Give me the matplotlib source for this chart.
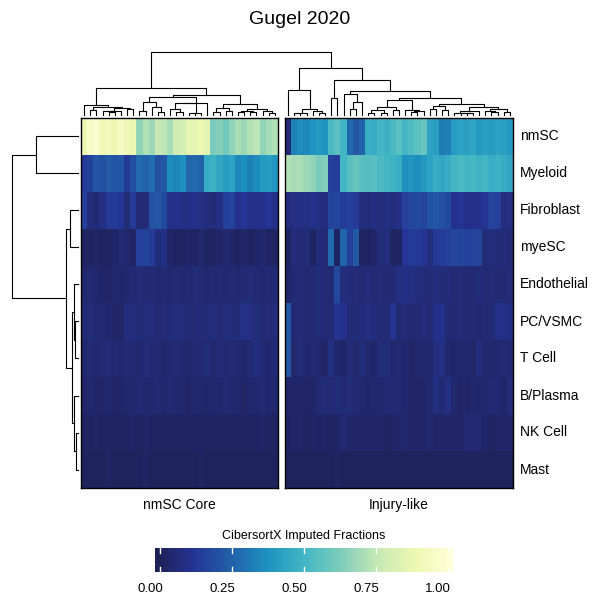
import matplotlib
matplotlib.use('Agg')
import matplotlib.pyplot as plt
import numpy as np
from matplotlib.cm import ScalarMappable
from matplotlib.colors import LinearSegmentedColormap, Normalize
from matplotlib.transforms import offset_copy

plt.rcParams['font.family'] = ['Liberation Sans', 'DejaVu Sans']

row_labels = ['nmSC', 'Myeloid', 'Fibroblast', 'myeSC', 'Endothelial',
              'PC/VSMC', 'T Cell', 'B/Plasma', 'NK Cell', 'Mast']
group_titles = ['nmSC Core', 'Injury-like']
cbar_ticks = [0.0, 0.25, 0.5, 0.75, 1.0]

# imputed fractions, one list per cell type, columns in dendrogram order
core_fractions = [
    [0.88, 0.96, 0.98, 0.90, 0.92, 0.88, 0.95, 0.90, 0.88, 0.66, 0.72, 0.68, 0.76, 0.74, 0.70, 0.78,
     0.80, 0.86, 0.86, 0.88, 0.85, 0.62, 0.64, 0.60, 0.66, 0.70, 0.68, 0.72, 0.74, 0.66, 0.70, 0.72],
    [0.13, 0.15, 0.22, 0.20, 0.23, 0.21, 0.22, 0.13, 0.20, 0.27, 0.25, 0.28, 0.20, 0.22, 0.36, 0.34,
     0.37, 0.26, 0.27, 0.25, 0.46, 0.48, 0.45, 0.41, 0.43, 0.35, 0.37, 0.33, 0.36, 0.40, 0.41, 0.39],
    [0.15, 0.07, 0.05, 0.08, 0.13, 0.14, 0.12, 0.06, 0.13, 0.05, 0.06, 0.20, 0.22, 0.18, 0.09, 0.10,
     0.08, 0.09, 0.10, 0.08, 0.07, 0.06, 0.08, 0.15, 0.16, 0.10, 0.11, 0.10, 0.09, 0.10, 0.11, 0.09],
    [0.02, 0.02, 0.03, 0.02, 0.02, 0.03, 0.05, 0.04, 0.02, 0.15, 0.16, 0.14, 0.07, 0.08, 0.03, 0.02,
     0.02, 0.03, 0.02, 0.04, 0.02, 0.02, 0.03, 0.04, 0.03, 0.02, 0.03, 0.02, 0.03, 0.04, 0.02, 0.02],
    [0.04, 0.05, 0.04, 0.03, 0.03, 0.04, 0.03, 0.04, 0.05, 0.06, 0.05, 0.05, 0.04, 0.05, 0.04, 0.05,
     0.04, 0.05, 0.06, 0.05, 0.04, 0.05, 0.05, 0.04, 0.05, 0.04, 0.05, 0.06, 0.05, 0.04, 0.05, 0.05],
    [0.05, 0.06, 0.05, 0.05, 0.04, 0.03, 0.03, 0.07, 0.07, 0.06, 0.07, 0.06, 0.05, 0.06, 0.06, 0.07,
     0.06, 0.06, 0.05, 0.06, 0.06, 0.07, 0.05, 0.07, 0.06, 0.06, 0.09, 0.09, 0.06, 0.05, 0.06, 0.06],
    [0.04, 0.05, 0.04, 0.05, 0.06, 0.05, 0.04, 0.05, 0.05, 0.04, 0.06, 0.05, 0.05, 0.04, 0.04, 0.05,
     0.04, 0.04, 0.05, 0.05, 0.06, 0.04, 0.06, 0.04, 0.05, 0.04, 0.04, 0.05, 0.07, 0.05, 0.04, 0.05],
    [0.03, 0.04, 0.03, 0.03, 0.04, 0.03, 0.03, 0.04, 0.04, 0.05, 0.04, 0.04, 0.05, 0.04, 0.05, 0.04,
     0.04, 0.03, 0.04, 0.04, 0.03, 0.04, 0.04, 0.05, 0.04, 0.04, 0.03, 0.04, 0.04, 0.05, 0.04, 0.04],
    [0.02, 0.02, 0.03, 0.02, 0.02, 0.02, 0.02, 0.02, 0.03, 0.02, 0.03, 0.02, 0.02, 0.02, 0.02, 0.02,
     0.02, 0.02, 0.02, 0.02, 0.02, 0.02, 0.02, 0.02, 0.02, 0.02, 0.02, 0.02, 0.02, 0.03, 0.02, 0.02],
    [0.01, 0.01, 0.01, 0.01, 0.02, 0.01, 0.01, 0.01, 0.01, 0.01, 0.02, 0.01, 0.01, 0.01, 0.01, 0.01,
     0.01, 0.01, 0.01, 0.02, 0.01, 0.01, 0.01, 0.01, 0.01, 0.01, 0.01, 0.01, 0.01, 0.01, 0.01, 0.01],
]

injury_fractions = [
    [0.05, 0.33, 0.36, 0.35, 0.38, 0.40, 0.38, 0.52, 0.56, 0.50, 0.27, 0.22, 0.25, 0.47, 0.46, 0.50,
     0.48, 0.52, 0.55, 0.50, 0.53, 0.56, 0.58, 0.43, 0.42, 0.32, 0.33, 0.41, 0.43, 0.42, 0.44, 0.40,
     0.42, 0.41, 0.43, 0.42, 0.40],
    [0.72, 0.70, 0.71, 0.68, 0.66, 0.62, 0.63, 0.15, 0.14, 0.50, 0.55, 0.58, 0.56, 0.54, 0.56, 0.52,
     0.50, 0.49, 0.47, 0.37, 0.39, 0.36, 0.40, 0.43, 0.46, 0.44, 0.47, 0.50, 0.52, 0.50, 0.51, 0.49,
     0.50, 0.47, 0.48, 0.46, 0.44],
    [0.07, 0.08, 0.09, 0.08, 0.10, 0.08, 0.07, 0.16, 0.17, 0.14, 0.15, 0.13, 0.07, 0.06, 0.08, 0.07,
     0.08, 0.07, 0.09, 0.15, 0.17, 0.18, 0.16, 0.21, 0.22, 0.20, 0.18, 0.10, 0.11, 0.10, 0.09, 0.10,
     0.11, 0.16, 0.15, 0.07, 0.08],
    [0.02, 0.06, 0.05, 0.06, 0.02, 0.06, 0.05, 0.27, 0.02, 0.26, 0.15, 0.23, 0.02, 0.02, 0.03, 0.06,
     0.07, 0.02, 0.02, 0.12, 0.14, 0.13, 0.11, 0.07, 0.13, 0.14, 0.15, 0.17, 0.16, 0.15, 0.16, 0.16,
     0.06, 0.07, 0.06, 0.06, 0.05],
    [0.03, 0.05, 0.06, 0.05, 0.05, 0.06, 0.05, 0.05, 0.18, 0.07, 0.06, 0.06, 0.05, 0.06, 0.05, 0.06,
     0.05, 0.05, 0.08, 0.09, 0.08, 0.07, 0.06, 0.06, 0.07, 0.06, 0.06, 0.05, 0.06, 0.05, 0.05, 0.06,
     0.05, 0.06, 0.05, 0.05, 0.06],
    [0.22, 0.05, 0.06, 0.05, 0.05, 0.06, 0.05, 0.05, 0.11, 0.10, 0.06, 0.06, 0.07, 0.08, 0.07, 0.06,
     0.05, 0.11, 0.05, 0.06, 0.05, 0.05, 0.06, 0.05, 0.10, 0.10, 0.05, 0.05, 0.06, 0.05, 0.05, 0.04,
     0.05, 0.05, 0.09, 0.09, 0.08],
    [0.22, 0.04, 0.06, 0.04, 0.05, 0.04, 0.03, 0.08, 0.04, 0.03, 0.06, 0.04, 0.06, 0.04, 0.03, 0.06,
     0.06, 0.04, 0.05, 0.04, 0.03, 0.04, 0.04, 0.04, 0.07, 0.09, 0.04, 0.03, 0.04, 0.04, 0.03, 0.07,
     0.04, 0.04, 0.04, 0.05, 0.04],
    [0.03, 0.03, 0.03, 0.03, 0.03, 0.05, 0.06, 0.05, 0.06, 0.05, 0.06, 0.05, 0.04, 0.03, 0.04, 0.04,
     0.05, 0.05, 0.05, 0.04, 0.03, 0.03, 0.03, 0.04, 0.08, 0.05, 0.08, 0.04, 0.03, 0.03, 0.04, 0.03,
     0.04, 0.05, 0.05, 0.03, 0.06],
    [0.02, 0.03, 0.03, 0.02, 0.03, 0.02, 0.03, 0.02, 0.03, 0.05, 0.03, 0.03, 0.03, 0.03, 0.03, 0.03,
     0.02, 0.03, 0.03, 0.04, 0.03, 0.03, 0.03, 0.04, 0.03, 0.03, 0.03, 0.03, 0.03, 0.05, 0.05, 0.05,
     0.03, 0.02, 0.03, 0.03, 0.03],
    [0.01, 0.01, 0.01, 0.01, 0.01, 0.01, 0.01, 0.01, 0.02, 0.01, 0.01, 0.01, 0.01, 0.01, 0.01, 0.01,
     0.01, 0.01, 0.01, 0.01, 0.01, 0.01, 0.01, 0.01, 0.01, 0.01, 0.01, 0.01, 0.01, 0.01, 0.01, 0.01,
     0.01, 0.01, 0.01, 0.01, 0.01],
]

W, H = 600, 602


def rect(x0, y0, x1, y1):
    # pixel box (top-left origin) -> figure fraction
    return [x0 / W, 1 - y1 / H, (x1 - x0) / W, (y1 - y0) / H]


def adj_linkage(X, pos):
    # complete linkage where only neighbouring clusters may merge,
    # so the leaf order stays the one shown in the heatmap
    dist = np.sqrt(((X[:, None, :] - X[None, :, :]) ** 2).sum(-1))
    clusters = [{'m': [i], 'p': pos[i], 'h': 0.0} for i in range(len(X))]
    segs = []
    while len(clusters) > 1:
        best = None
        for k in range(len(clusters) - 1):
            d = dist[np.ix_(clusters[k]['m'], clusters[k + 1]['m'])].max()
            if best is None or d < best[0]:
                best = (d, k)
        d, k = best
        a, b = clusters[k], clusters[k + 1]
        segs.append((a['p'], a['h'], b['p'], b['h'], d))
        clusters[k:k + 2] = [{'m': a['m'] + b['m'], 'p': (a['p'] + b['p']) / 2, 'h': d}]
    return segs, clusters[0]


fig = plt.figure(figsize=(6, 6.02), dpi=100)

cmap = LinearSegmentedColormap.from_list('ylgnbu', [
    '#1d1f50', '#253494', '#225ea8', '#1d91c0', '#41b6c4',
    '#7fcdbb', '#c7e9b4', '#edf8b1', '#ffffd9'])
norm = Normalize(vmin=-0.017, vmax=1.017)

core = np.array(core_fractions)
injury = np.array(injury_fractions)
n_rows = len(row_labels)
top, bottom = 118, 488
panels = [(core, 81, 278), (injury, 285, 513)]

leaf_x = []
for (data, x0, x1), title in zip(panels, group_titles):
    ax = fig.add_axes(rect(x0, top, x1, bottom))
    ax.pcolormesh(data, cmap=cmap, norm=norm)
    ax.set_ylim(n_rows, 0)
    ax.set_xticks([])
    ax.set_yticks([])
    for s in ax.spines.values():
        s.set_linewidth(1.0)
        s.set_color('black')
    fig.text((x0 + x1) / 2 / W, 1 - 505 / H, title, ha='center', va='center', fontsize=10)
    n = data.shape[1]
    leaf_x.append(x0 + (np.arange(n) + 0.5) * (x1 - x0) / n)

row_h = (bottom - top) / n_rows
row_y = top + (np.arange(n_rows) + 0.5) * row_h
for lab, y in zip(row_labels, row_y):
    fig.text(520 / W, 1 - y / H, lab, ha='left', va='center', fontsize=10)

# column dendrogram
segs_l, root_l = adj_linkage(core.T, leaf_x[0])
segs_r, root_r = adj_linkage(injury.T, leaf_x[1])
cross = np.sqrt(((core.T[:, None, :] - injury.T[None, :, :]) ** 2).sum(-1)).max()
col_segs = segs_l + segs_r + [(root_l['p'], root_l['h'], root_r['p'], root_r['h'], cross)]
ax_cd = fig.add_axes(rect(81, 52, 513, 115))
for xa, ha, xb, hb, h in col_segs:
    ax_cd.plot([xa, xa, xb, xb], [ha, h, h, hb], color='black', lw=0.8, clip_on=False)
ax_cd.set_xlim(81, 513)
ax_cd.set_ylim(0, cross)
ax_cd.axis('off')

# row dendrogram
full = np.hstack([core, injury])
row_segs, row_root = adj_linkage(full, row_y)
ax_rd = fig.add_axes(rect(12, top, 78, bottom))
for ya, ha, yb, hb, h in row_segs:
    ax_rd.plot([ha, h, h, hb], [ya, ya, yb, yb], color='black', lw=0.8, clip_on=False)
ax_rd.set_xlim(row_root['h'], 0)
ax_rd.set_ylim(bottom, top)
ax_rd.axis('off')

# colour legend
cax = fig.add_axes(rect(155, 548, 453, 572))
cb = fig.colorbar(ScalarMappable(norm=norm, cmap=cmap), cax=cax, orientation='horizontal')
cb.outline.set_visible(False)
cax.set_xticks([])
xt = cax.get_xaxis_transform()
lab_tr = offset_copy(xt, fig=fig, x=-10, y=0, units='dots')
for t in cbar_ticks:
    cax.plot([t, t], [0, 0.2], color='white', lw=1, transform=xt)
    cax.plot([t, t], [0.8, 1], color='white', lw=1, transform=xt)
    cax.text(t, -0.7, f'{t:.2f}', transform=lab_tr, ha='center', va='center', fontsize=9.5)
fig.text(304 / W, 1 - 536 / H, 'CibersortX Imputed Fractions', ha='center', va='center', fontsize=9)

fig.text(300 / W, 1 - 20 / H, 'Gugel 2020', ha='center', va='center', fontsize=14)

fig.savefig('out.png', dpi=100)
